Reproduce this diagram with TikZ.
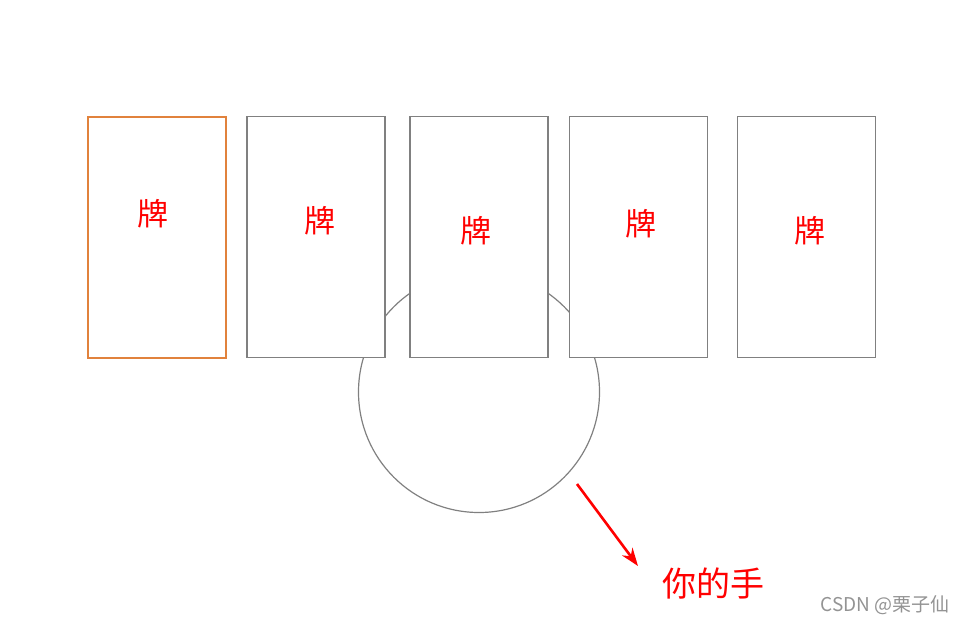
\documentclass[tikz,border=0pt]{standalone}
\usepackage{fontspec}
\newfontfamily\cjk{Noto Sans CJK SC}
\usepackage{xcolor}
\usetikzlibrary{arrows.meta}
\definecolor{cardgray}{RGB}{128,128,128}
\definecolor{cardorange}{RGB}{225,130,60}
\tikzset{
  card/.style={draw=cardgray, line width=1.3pt, fill=white, minimum width=138pt, minimum height=241pt, inner sep=0pt},
  pai/.style={text=red, font=\cjk\fontsize{31}{31}\selectfont},
}
\begin{document}
\begin{tikzpicture}[x=1pt,y=-1pt]
\useasboundingbox (0,0) rectangle (966,624);
% ========= 手：圆 =========
\node[draw=cardgray, line width=1.2pt, circle, minimum size=241pt, inner sep=0pt] (hand) at (479,392) {};

% ========= 五张牌 =========
\node[card, draw=cardorange, line width=2pt] (card1) at (157,237) {};
\node[card] (card2) at (316,237) {};
\node[card] (card3) at (479,237) {};
\node[card] (card4) at (638.5,237) {};
\node[card] (card5) at (806.5,237) {};
\node[pai] (pai1) at (153,214) {牌};
\node[pai] (pai2) at (320,221) {牌};
\node[pai] (pai3) at (476,231) {牌};
\node[pai] (pai4) at (641,224) {牌};
\node[pai] (pai5) at (810,231) {牌};

% ========= 箭头与文字 =========
\node[text=red, font=\cjk\fontsize{34}{34}\selectfont] (yourhand) at (713,584) {你的手};
\coordinate (arrfrom) at (577,484);
\coordinate (arrto) at (638,566);
\draw[red, line width=2.6pt, -{Stealth[length=18pt,width=13pt]}] (arrfrom) -- (arrto);

% ========= 水印 =========
\node[text=gray!85, font=\cjk\fontsize{19}{19}\selectfont] (mark) at (885,605) {CSDN @栗子仙};
\end{tikzpicture}
\end{document}
